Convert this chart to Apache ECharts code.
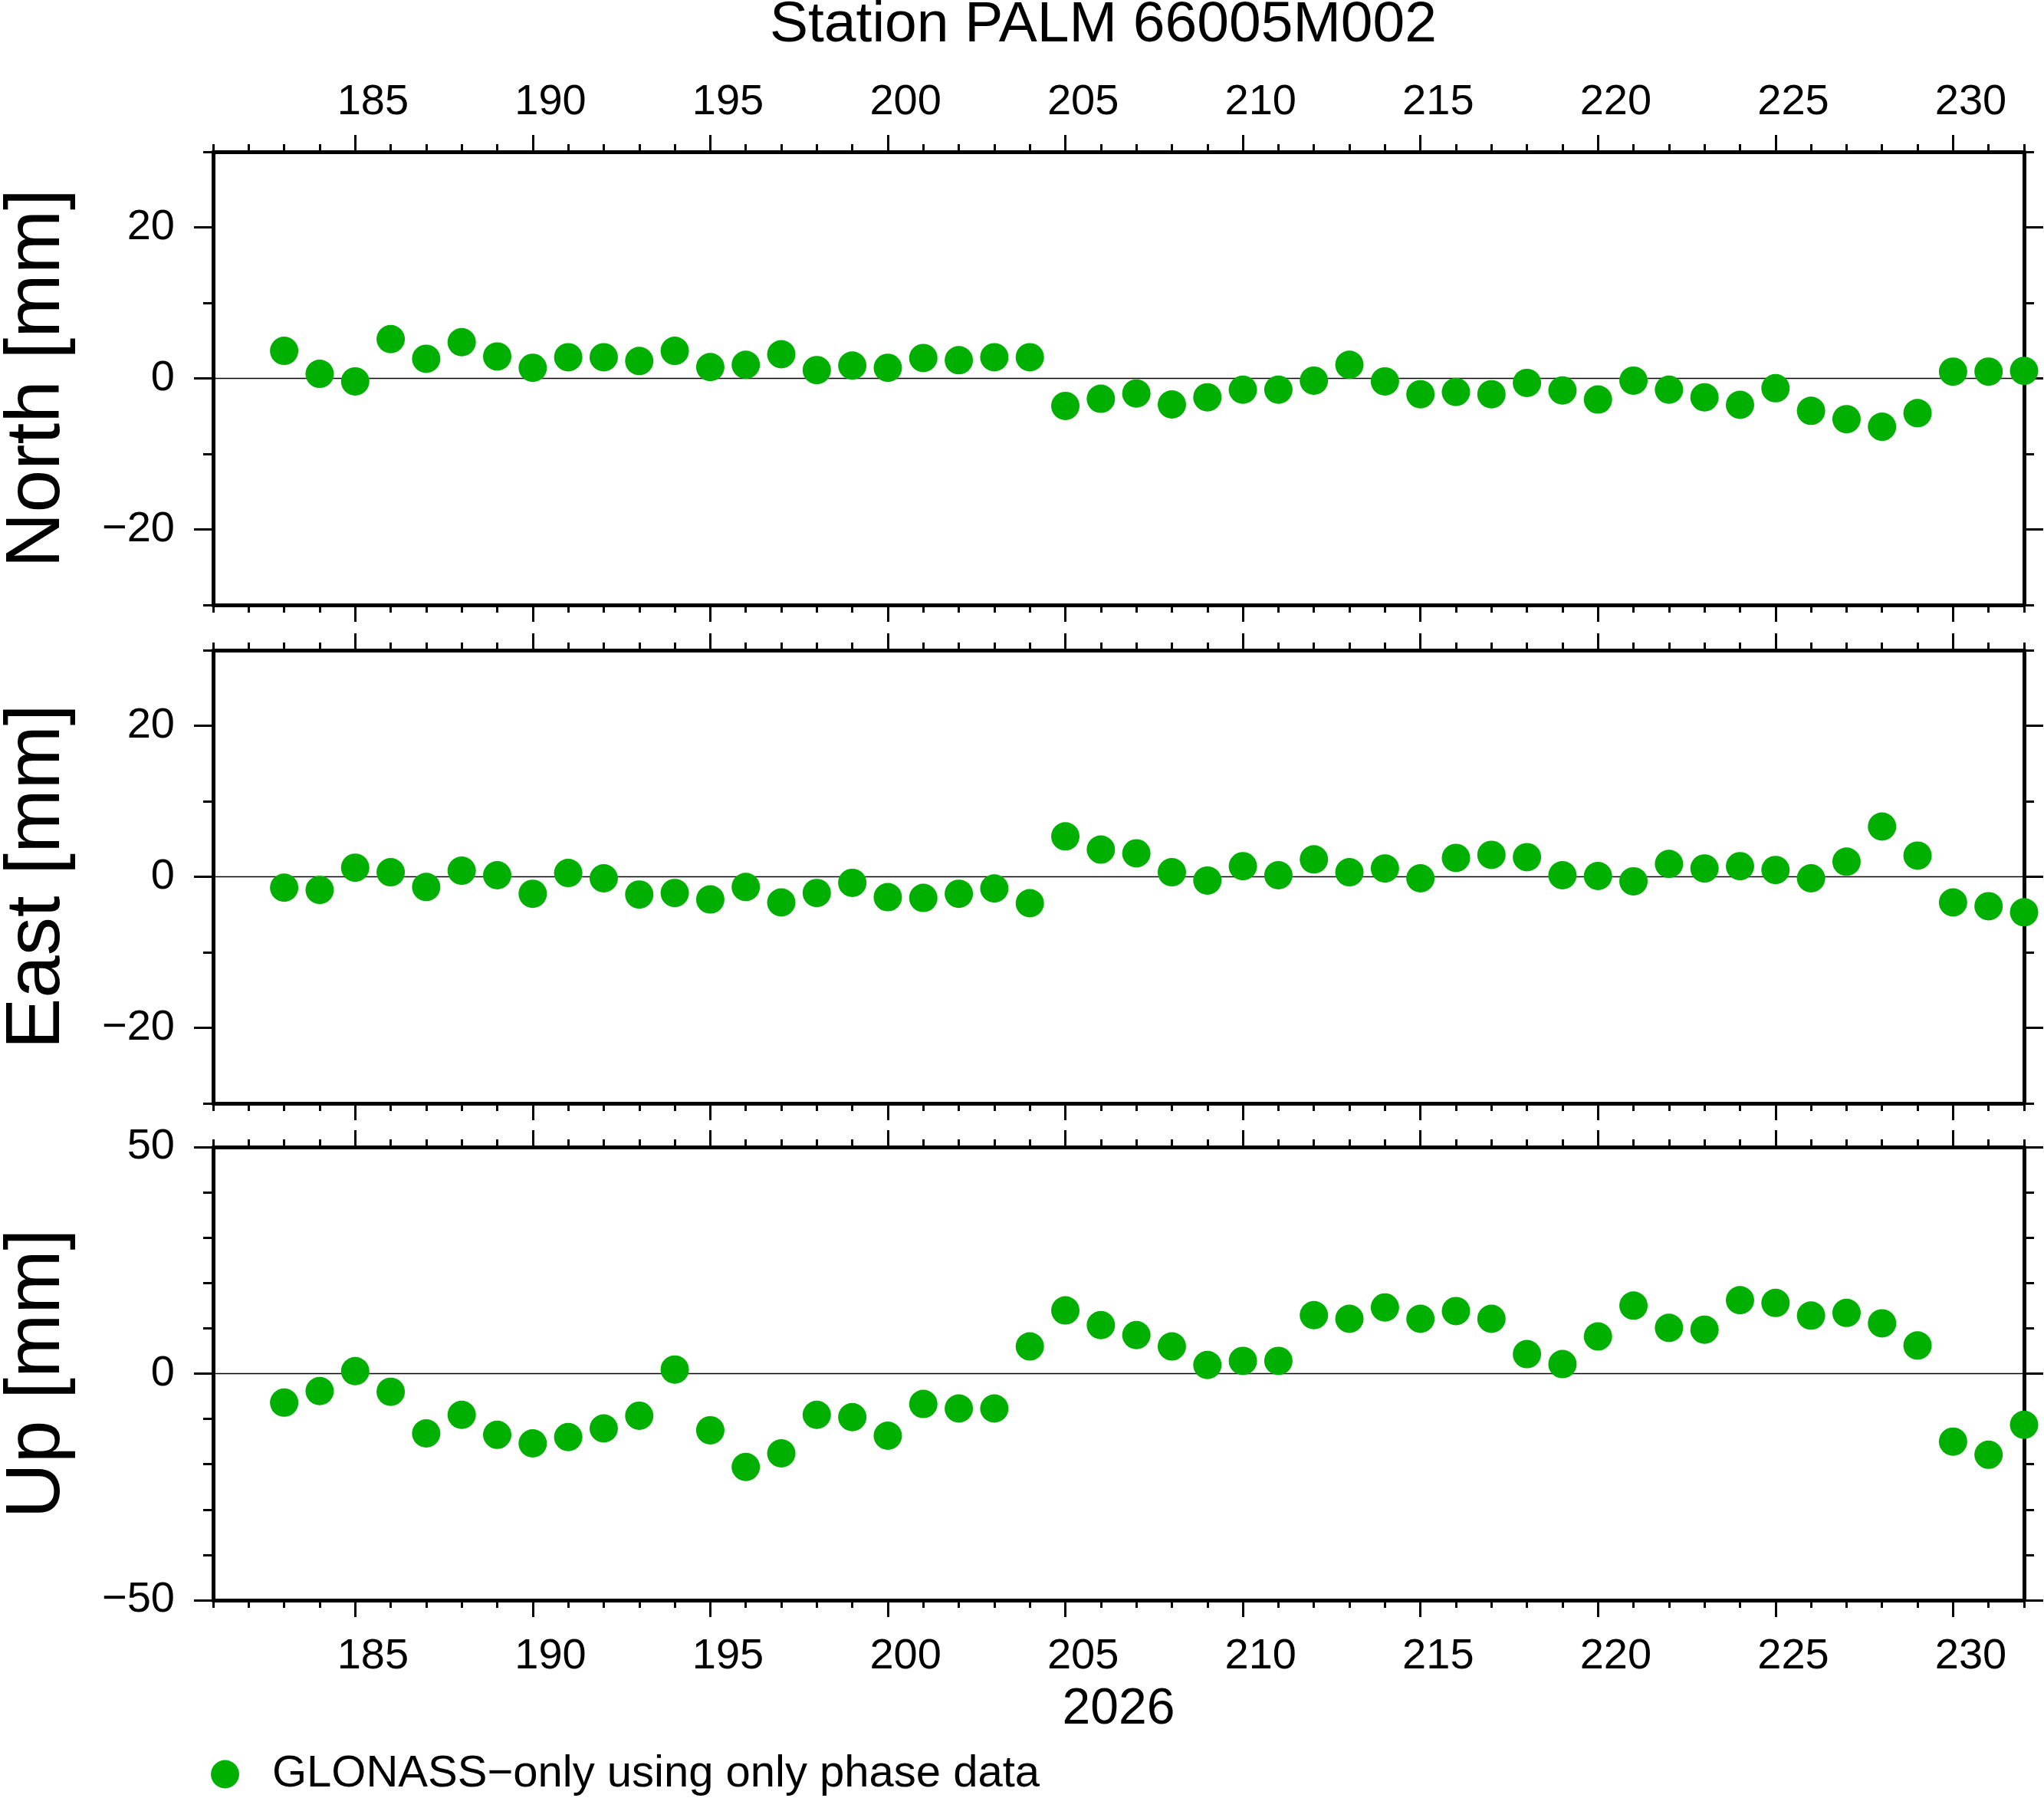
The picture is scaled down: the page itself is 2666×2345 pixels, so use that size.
<!DOCTYPE html>
<html>
<head>
<meta charset="utf-8">
<script src="https://cdn.jsdelivr.net/npm/echarts@6/dist/echarts.min.js"></script>
<style>
html,body{margin:0;padding:0;background:#fff;}
#chart{width:2666px;height:2345px;}
</style>
</head>
<body>
<div id="chart"></div>
<script>
// ---- data ----
const days = [183,184,185,186,187,188,189,190,191,192,193,194,195,196,197,198,199,200,201,202,203,204,205,206,207,208,209,210,211,212,213,214,215,216,217,218,219,220,221,222,223,224,225,226,227,228,229,230,231,232];
const north = [3.65,0.6,-0.4,5.2,2.6,4.8,2.9,1.4,2.8,2.8,2.3,3.65,1.5,1.8,3.2,1.1,1.7,1.4,2.7,2.4,2.8,2.8,-3.65,-2.7,
               -2.0,-3.45,-2.5,-1.5,-1.5,-0.3,1.8,-0.4,-2.1,-1.8,-2.1,-0.6,-1.6,-2.8,-0.3,-1.5,-2.5,-3.5,-1.3,-4.3,-5.4,-6.4,-4.6,0.9,0.9,1.0];
const east = [-1.45,-1.75,1.2,0.6,-1.35,0.8,0.2,-2.25,0.5,-0.2,-2.35,-2.15,-3.0,-1.35,-3.4,-2.15,-0.8,-2.7,-2.8,-2.25,-1.55,-3.5,5.35,3.6,
              3.1,0.6,-0.5,1.4,0.2,2.3,0.6,1.1,-0.2,2.5,2.9,2.6,0.2,0.1,-0.6,1.7,1.1,1.4,0.9,-0.2,2.0,6.65,2.8,-3.4,-3.9,-4.7];
const up = [-6.4,-3.85,0.55,-4.0,-13.2,-9.1,-13.5,-15.4,-14.0,-12.1,-9.3,0.9,-12.5,-20.6,-17.6,-9.1,-9.6,-13.7,-6.7,-7.7,-7.7,6.0,13.95,10.7,
            8.5,6.0,1.9,2.8,2.8,12.9,12.1,14.6,12.1,13.8,12.1,4.3,2.1,8.2,15.0,10.1,9.7,16.2,15.6,12.8,13.4,11.1,6.2,-15.0,-17.9,-11.3];
const xTickLabels = [185,190,195,200,205,210,215,220,225,230];
const neTickLabels = [-20,0,20];
const upTickLabels = [-50,0,50];
const panelNames = ['North [mm]','East [mm]','Up [mm]'];
const seriesName = 'GLONASS\u2212only using only phase data';
const titleText = 'Station PALM 66005M002';
const yearLabel = '2026';

// ---- layout / style ----
const FONT = 'Liberation Sans';
const GREEN = '#00b000';
const panelTops = [198, 848, 1496];
const panelH = 591;
const gridLeft = 278, gridRight = 26;
const xMin = 181, xMax = 232;
const yRanges = [[-30,30],[-30,30],[-50,50]];
const yMajor = [neTickLabels, neTickLabels, upTickLabels];
const minus = v => String(v).replace('-', '\u2212');
// day labels are centred in the middle of each day interval (as in the original plot)
const xLabelPos = xTickLabels.map(d => d + 0.5);
const dayFmt = v => String(Math.floor(v));

const grids = panelTops.map(t => ({left: gridLeft, right: gridRight, top: t, height: panelH, outerBoundsMode:'none', containLabel:false}));
const xAxes = [], yAxes = [], series = [];
const values = [north, east, up];

panelTops.forEach((t, p) => {
  const base = {type:'value', gridIndex:p, min:xMin, max:xMax, splitLine:{show:false}};
  const bi = xAxes.length;
  xAxes.push(Object.assign({}, base, {
    position:'bottom',
    axisLine:{show:true, onZero:false, lineStyle:{color:'#000', width:5}},
    axisTick:{show:true, inside:false, length:22, lineStyle:{color:'#000', width:3}, customValues:xTickLabels},
    axisLabel:{show:p===2, customValues:xLabelPos, formatter:dayFmt, fontFamily:FONT, fontSize:56, color:'#000', margin:46},
    name: p===2 ? yearLabel : '', nameLocation:'middle', nameGap:110,
    nameTextStyle:{fontFamily:FONT, fontSize:66, color:'#000'}
  }));
  xAxes.push(Object.assign({}, base, {
    position:'bottom', interval:1,
    axisLine:{show:false, onZero:false}, axisLabel:{show:false},
    axisTick:{show:true, length:10, lineStyle:{color:'#000', width:3}}
  }));
  xAxes.push(Object.assign({}, base, {
    position:'top',
    axisLine:{show:true, onZero:false, lineStyle:{color:'#000', width:5}},
    axisTick:{show:true, length:22, lineStyle:{color:'#000', width:3}, customValues:xTickLabels},
    axisLabel:{show:p===0, customValues:xLabelPos, formatter:dayFmt, fontFamily:FONT, fontSize:56, color:'#000', margin:36}
  }));
  xAxes.push(Object.assign({}, base, {
    position:'top', interval:1,
    axisLine:{show:false, onZero:false}, axisLabel:{show:false},
    axisTick:{show:true, length:10, lineStyle:{color:'#000', width:3}}
  }));

  const yb = {type:'value', gridIndex:p, min:yRanges[p][0], max:yRanges[p][1], splitLine:{show:false}};
  const li = yAxes.length;
  yAxes.push(Object.assign({}, yb, {
    position:'left',
    axisLine:{show:true, onZero:false, lineStyle:{color:'#000', width:5}},
    axisTick:{show:true, length:25, lineStyle:{color:'#000', width:3}, customValues:yMajor[p]},
    axisLabel:{show:true, customValues:yMajor[p], fontFamily:FONT, fontSize:56, color:'#000', margin:50, formatter:minus},
    name: panelNames[p], nameLocation:'middle', nameRotate:90, nameGap:179,
    nameTextStyle:{fontFamily:FONT, fontSize:100, color:'#000'}
  }));
  yAxes.push(Object.assign({}, yb, {
    position:'left', interval:10,
    axisLine:{show:false, onZero:false}, axisLabel:{show:false},
    axisTick:{show:true, length:13, lineStyle:{color:'#000', width:3}}
  }));
  yAxes.push(Object.assign({}, yb, {
    position:'right',
    axisLine:{show:true, onZero:false, lineStyle:{color:'#000', width:5}},
    axisTick:{show:true, length:25, lineStyle:{color:'#000', width:3}, customValues:yMajor[p]},
    axisLabel:{show:false}
  }));
  yAxes.push(Object.assign({}, yb, {
    position:'right', interval:10,
    axisLine:{show:false, onZero:false}, axisLabel:{show:false},
    axisTick:{show:true, length:13, lineStyle:{color:'#000', width:3}}
  }));

  series.push({
    name: seriesName,
    type:'scatter',
    xAxisIndex: bi, yAxisIndex: li,
    symbol:'circle', symbolSize:37,
    itemStyle:{color:GREEN, opacity:1},
    data: days.map((d,i) => [d, values[p][i]]),
    z: 3,
    markLine:{
      silent:true, symbol:['none','none'], z:1,
      label:{show:false},
      lineStyle:{color:'#000', width:1.3, type:'solid'},
      emphasis:{disabled:true},
      data:[{yAxis:0}]
    }
  });
});

const chart = echarts.init(document.getElementById('chart'), null, {renderer:'canvas'});
chart.setOption({
  animation:false,
  backgroundColor:'#fff',
  title:{
    text: titleText, left:1439, top:-4, padding:0, textAlign:'center',
    textStyle:{fontFamily:FONT, fontSize:75, fontWeight:'normal', color:'#000'}
  },
  legend:{
    left:270, top:2280, icon:'circle', itemWidth:37, itemHeight:37,
    data:[seriesName],
    textStyle:{fontFamily:FONT, fontSize:58, color:'#000', padding:[0,0,0,38]}
  },
  grid: grids,
  xAxis: xAxes,
  yAxis: yAxes,
  series: series
});
</script>
</body>
</html>
